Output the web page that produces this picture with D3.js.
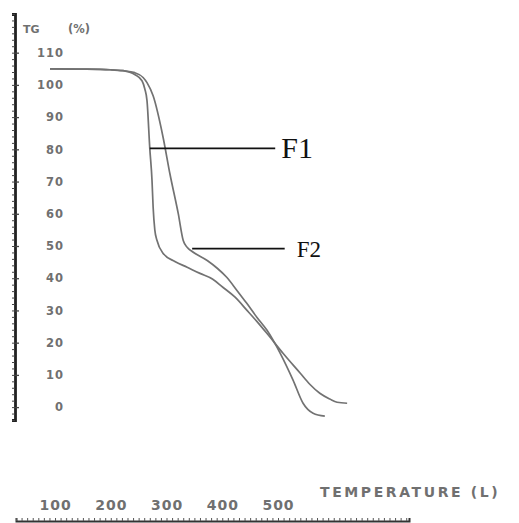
<!DOCTYPE html>
<html>
<head>
<meta charset="utf-8">
<script src="https://cdn.jsdelivr.net/npm/d3@7"></script>
<style>
  body { margin: 0; background: #fff; }
  svg { display: block; }
  .tick text { font-family: "DejaVu Sans", sans-serif; fill: #707070; font-weight: bold; }
</style>
</head>
<body>
<svg id="chart" width="519" height="523"></svg>
<script>
// TG curves: temperature (°C) and residual mass (%)
const f1Temp = [91, 145, 199, 222, 243, 256, 261, 265, 270, 274, 276, 279, 283, 294, 315, 337, 360, 383, 401, 423, 444, 462, 480, 509, 540, 557, 575, 593, 606, 624];
const f1Mass = [105.0, 104.9, 104.7, 104.4, 103.2, 101.3, 98.8, 95.1, 80.3, 70.3, 62.0, 55.0, 51.7, 47.7, 45.2, 43.4, 41.5, 39.7, 37.2, 34.1, 30.1, 26.6, 22.9, 16.7, 10.5, 7.1, 4.3, 2.5, 1.5, 1.2];
const f2Temp = [91, 145, 199, 222, 243, 258, 265, 276, 294, 306, 321, 330, 337, 346, 373, 391, 408, 426, 444, 462, 480, 504, 527, 545, 563, 584];
const f2Mass = [105.0, 104.9, 104.7, 104.4, 103.8, 102.3, 100.7, 96.6, 83.6, 72.5, 60.1, 51.7, 49.6, 48.3, 45.5, 43.1, 40.3, 36.3, 32.2, 27.9, 23.9, 16.7, 8.4, 1.2, -1.9, -2.8];
const yTicks = [0, 10, 20, 30, 40, 50, 60, 70, 80, 90, 100, 110];
const xTicks = [100, 200, 300, 400, 500];

const svg = d3.select('#chart');
const x = d3.scaleLinear().domain([30, 735]).range([16, 409]);
const y = d3.scaleLinear().domain([-4, 122]).range([420, 14]);

// y ruler: minor ticks on the left, major ticks + labels
svg.append('g').attr('transform', 'translate(15,0)')
  .call(d3.axisLeft(y).tickValues(d3.range(-4, 123, 2)).tickSize(3).tickFormat(''))
  .call(g => g.selectAll('line').attr('stroke', '#444'))
  .call(g => g.select('.domain').attr('stroke', '#222').attr('stroke-width', 2.8));

svg.append('g').attr('transform', 'translate(15,0)')
  .call(d3.axisRight(y).tickValues(yTicks).tickSize(4).tickPadding(0))
  .call(g => g.select('.domain').remove())
  .call(g => g.selectAll('line').attr('stroke', '#444').attr('stroke-width', 1.3))
  .call(g => g.selectAll('text').attr('x', 49).attr('text-anchor', 'end')
    .style('font-size', '11.5px').style('letter-spacing', '1px'));

svg.append('text').attr('x', 23).attr('y', 33)
  .attr('font-family', 'DejaVu Sans, sans-serif').attr('font-size', 11).attr('font-weight', 'bold')
  .attr('fill', '#707070').text('TG');
svg.append('text').attr('x', 68).attr('y', 33)
  .attr('font-family', 'DejaVu Sans, sans-serif').attr('font-size', 11.5).attr('font-weight', 'bold')
  .attr('fill', '#707070').text('(%)');

// bottom ruler (cut off by the scan)
svg.append('g').attr('transform', 'translate(0,521)')
  .call(d3.axisTop(x).tickValues(d3.range(30, 736, 10)).tickSize(3).tickFormat(''))
  .call(g => g.selectAll('line').attr('stroke', '#555'))
  .call(g => g.select('.domain').attr('stroke', '#333').attr('stroke-width', 2));

svg.append('g').attr('transform', 'translate(0,521)')
  .call(d3.axisTop(x).tickValues(xTicks).tickSize(0).tickPadding(11))
  .call(g => g.select('.domain').remove())
  .call(g => g.selectAll('text').style('font-size', '14px').style('letter-spacing', '1px'));

svg.append('text').attr('x', 320).attr('y', 497)
  .attr('font-family', 'DejaVu Sans, sans-serif').attr('font-size', 14).attr('font-weight', 'bold')
  .attr('fill', '#707070').style('letter-spacing', '2.6px')
  .text('TEMPERATURE  (L)');

// curves
const line = d3.line().x(d => x(d[0])).y(d => y(d[1])).curve(d3.curveMonotoneX);
const series = [
  { name: 'F1', pts: d3.zip(f1Temp, f1Mass) },
  { name: 'F2', pts: d3.zip(f2Temp, f2Mass) }
];
svg.selectAll('.curve').data(series).join('path')
  .attr('class', 'curve')
  .attr('d', d => line(d.pts))
  .attr('fill', 'none')
  .attr('stroke', '#727272')
  .attr('stroke-width', 1.7);

// callouts
const callouts = [
  { name: 'F1', t: 270, m: 80.3, t2: 495, size: 30, dx: 6, dy: 10 },
  { name: 'F2', t: 346, m: 49.2, t2: 512, size: 23, dx: 12, dy: 8 }
];
callouts.forEach(c => {
  svg.append('line')
    .attr('x1', x(c.t)).attr('x2', x(c.t2))
    .attr('y1', y(c.m)).attr('y2', y(c.m))
    .attr('stroke', '#111').attr('stroke-width', 1.6);
  svg.append('text')
    .attr('x', x(c.t2) + c.dx).attr('y', y(c.m) + c.dy)
    .attr('font-family', 'Liberation Serif, serif').attr('font-size', c.size)
    .attr('fill', '#111').text(c.name);
});
</script>
</body>
</html>
